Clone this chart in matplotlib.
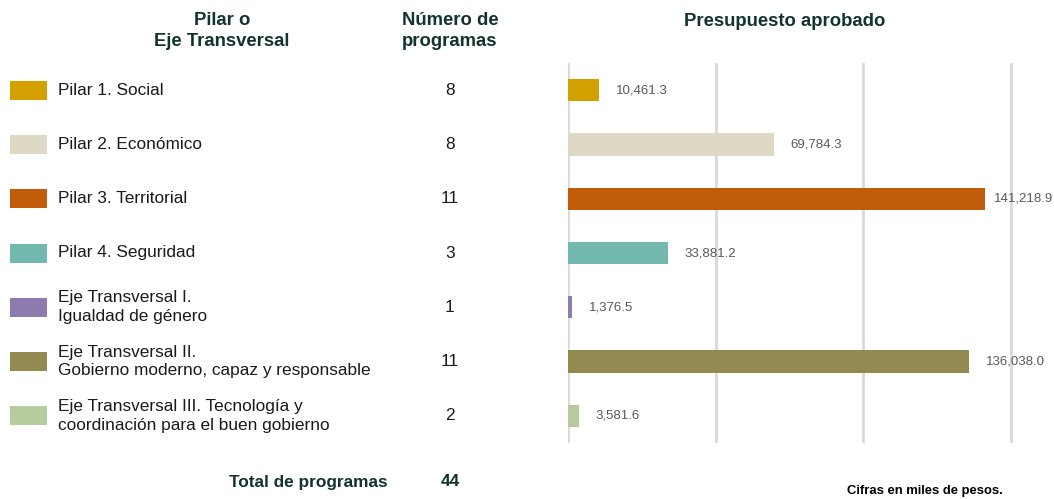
import matplotlib.pyplot as plt

plt.rcParams['font.family'] = ['Liberation Sans', 'DejaVu Sans']

# Data
categorias = ["Pilar 1. Social",
              "Pilar 2. Económico",
              "Pilar 3. Territorial",
              "Pilar 4. Seguridad",
              "Eje Transversal I.\nIgualdad de género",
              "Eje Transversal II.\nGobierno moderno, capaz y responsable",
              "Eje Transversal III. Tecnología y\ncoordinación para el buen gobierno"]
programas = [8, 8, 11, 3, 1, 11, 2]
presupuesto = [10461.3, 69784.3, 141218.9, 33881.2, 1376.5, 136038.0, 3581.6]
colores = ["#D4A000", "#DED9C4", "#C05C0A", "#72B8AE", "#8E7BB0", "#938A52", "#B7CC9C"]
total_programas = 44

W, H = 1054, 499
dark = "#12332E"

fig = plt.figure(figsize=(W / 100, H / 100), dpi=100, facecolor='white')

bottom = 1 - 443 / H
top = 1 - 63 / H

# Left table axes (pixel-like x coordinates)
axl = fig.add_axes([0, bottom, 540 / W, top - bottom])
axl.set_xlim(0, 540)
axl.set_ylim(6.5, -0.5)
axl.axis('off')
rows = list(range(len(categorias)))
axl.barh(rows, [37] * len(rows), left=10, height=0.35, color=colores)
for i in rows:
    axl.text(58, i + 0.0, categorias[i], ha='left', va='center', fontsize=12.4,
             color='#1a1a1a', linespacing=1.32)
    axl.text(450, i, str(programas[i]), ha='center', va='center',
             fontsize=12.4, color='#1a1a1a')

# Bar chart axes
ax = fig.add_axes([568 / W, bottom, (1040 - 568) / W, top - bottom])
ax.barh(rows, presupuesto, height=0.41, color=colores, zorder=3)
ax.set_xlim(0, 160000)
ax.set_ylim(6.5, -0.5)
ax.set_xticks([0, 50000, 100000, 150000])
ax.grid(axis='x', color='#d9d9d9', linewidth=2, zorder=0)
ax.tick_params(left=False, bottom=False, labelleft=False, labelbottom=False)
for s in ax.spines.values():
    s.set_visible(False)
for i, v in enumerate(presupuesto):
    # the largest label is pushed left to stay inside the picture
    off = 6.5 if v == max(presupuesto) else 12
    ax.annotate(f"{v:,.1f}", (v, i), xytext=(off, 0), textcoords='offset points',
                ha='left', va='center', fontsize=9.5, color='#595959', zorder=4)

# Headers
fig.text(222 / W, 1 - 31 / H, "Pilar o\nEje Transversal", ha='center', va='center',
         fontsize=13.3, fontweight='bold', color=dark, linespacing=1.38)
fig.text(450 / W, 1 - 31 / H, "Número de\nprogramas", ha='center', va='center',
         fontsize=13.3, fontweight='bold', color=dark, linespacing=1.38)
fig.text(785 / W, 1 - 21 / H, "Presupuesto aprobado", ha='center', va='center',
         fontsize=13.3, fontweight='bold', color=dark)

# Footer
fig.text(388 / W, 1 - 482 / H, "Total de programas", ha='right', va='center',
         fontsize=12.4, fontweight='bold', color=dark)
fig.text(450 / W, 1 - 482 / H, str(total_programas), ha='center', va='center',
         fontsize=12.4, fontweight='bold', color=dark)
fig.text(1003 / W, 1 - 491 / H, "Cifras en miles de pesos.", ha='right', va='center',
         fontsize=9.4, fontweight='bold', color='black')

plt.savefig('out.png', dpi=100, facecolor='white')
